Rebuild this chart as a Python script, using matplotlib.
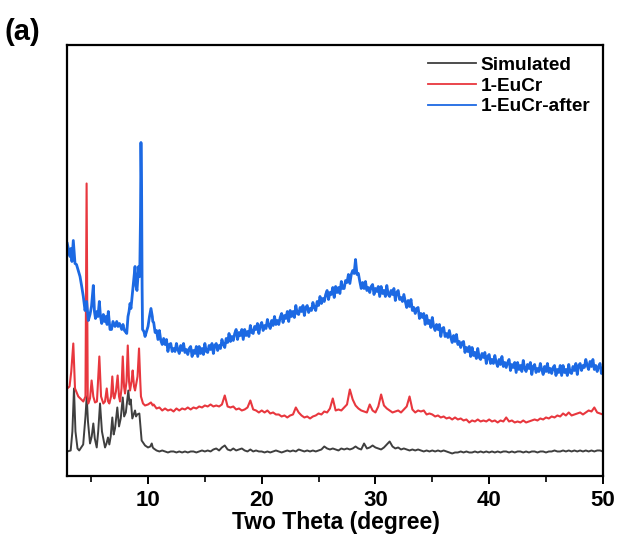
import numpy as np
import matplotlib
matplotlib.use("Agg")
import matplotlib.pyplot as plt

plt.rcParams['font.family'] = ['Liberation Sans', 'DejaVu Sans']
plt.rcParams['font.weight'] = 'bold'

# low-angle region (sharp reflections), 2theta / intensity (a.u.)
sim_head_x = [2.9, 3.2, 3.35, 3.49, 3.62, 3.8, 3.95, 4.3, 4.5, 4.61, 4.72, 4.9, 5.05, 5.19, 5.32,
              5.49, 5.62, 5.78, 5.95, 6.22, 6.35, 6.48, 6.6, 6.72, 6.86, 6.98, 7.1, 7.3, 7.45,
              7.6, 7.78, 7.9, 8.05, 8.27, 8.38, 8.48, 8.62, 8.86, 8.95, 9.05, 9.24, 9.44, 9.74,
              10.0, 10.2, 10.33, 10.42]
sim_head_y = [25, 26, 45, 88, 45, 28, 26, 32, 60, 80, 55, 33, 40, 53, 38,
              29, 45, 73, 45, 29, 33, 39, 32, 40, 59, 42, 48, 69, 50,
              58, 79, 60, 64, 86, 72, 77, 58, 66, 60, 62, 63, 36, 31,
              29, 30, 33, 29]

eucr_head_x = [2.9, 3.1, 3.25, 3.43, 3.58, 3.87, 4.31, 4.5, 4.6, 4.7, 4.75, 4.9, 5.04, 5.19, 5.34,
               5.51, 5.72, 5.87, 6.07, 6.22, 6.37, 6.49, 6.6, 6.75, 6.86, 6.97, 7.04, 7.18, 7.33,
               7.45, 7.54, 7.67, 7.78, 7.89, 7.98, 8.11, 8.22, 8.33, 8.42, 8.55, 8.65, 8.77, 8.86,
               9.08, 9.21, 9.32, 9.38, 9.56, 9.74, 10.0, 10.26, 10.42]
eucr_head_y = [88, 90, 105, 133, 88, 80, 75, 80, 293, 80, 73, 78, 96, 80, 74,
               75, 120, 80, 73, 75, 88, 75, 73, 80, 100, 80, 78, 85, 101,
               80, 75, 88, 120, 90, 83, 95, 131, 95, 86, 95, 106, 90, 86,
               100, 128, 95, 80, 73, 71, 72, 74, 71]

after_head_x = [2.9, 3.05, 3.14, 3.22, 3.31, 3.43, 3.58, 3.71, 3.87, 4.02, 4.17, 4.31, 4.46, 4.6,
                4.75, 4.9, 5.03, 5.19, 5.29, 5.38, 5.51, 5.6, 5.72, 5.82, 5.93, 6.07, 6.17, 6.3,
                6.4, 6.51, 6.66, 6.79, 6.92, 7.1, 7.25, 7.36, 7.49, 7.69, 7.8, 7.93, 8.13, 8.24,
                8.33, 8.42, 8.5, 8.64, 8.73, 8.86, 8.95, 9.03, 9.18, 9.27, 9.34, 9.38, 9.44, 9.48,
                9.52, 9.64, 9.74, 9.87, 10.0, 10.13, 10.26, 10.38, 10.42]
after_head_y = [233, 225, 220, 228, 215, 236, 213, 212, 206, 200, 190, 180, 166, 175,
                156, 162, 170, 191, 165, 158, 165, 160, 175, 160, 153, 162, 155, 160,
                152, 165, 147, 147, 155, 150, 155, 150, 153, 147, 152, 146, 143, 160,
                165, 173, 168, 185, 195, 210, 190, 186, 210, 200, 260, 334, 280, 190,
                147, 145, 140, 145, 150, 160, 168, 160, 155]

# 10.5-50 deg: Simulated and 1-EuCr read every 0.25 deg
tail_x = np.arange(10.5, 50.001, 0.25)

sim_tail = [28, 26, 25, 26, 25, 24, 25, 25, 24, 25, 24, 25, 24, 25, 25, 24, 25, 26, 25, 26,
            25, 27, 28, 26, 29, 31, 27, 26, 28, 26, 27, 28, 26, 25, 27, 25, 26, 25, 25, 24,
            25, 24, 25, 26, 25, 24, 25, 26, 25, 26, 25, 27, 26, 25, 26, 25, 26, 25, 26, 27,
            30, 28, 27, 28, 27, 26, 28, 27, 28, 27, 28, 30, 28, 27, 33, 28, 29, 31, 29, 28,
            27, 29, 32, 35, 30, 28, 29, 27, 28, 27, 26, 27, 26, 27, 26, 25, 26, 25, 26, 25,
            26, 25, 26, 25, 24, 23, 24, 24, 25, 24, 25, 24, 24, 25, 24, 25, 24, 25, 24, 25,
            24, 25, 24, 25, 25, 24, 25, 24, 25, 25, 24, 25, 24, 25, 25, 24, 25, 25, 24, 25,
            25, 26, 25, 25, 26, 25, 26, 25, 26, 25, 26, 25, 26, 25, 26, 25, 26, 26, 25]

eucr_tail = [72, 68, 69, 66, 68, 66, 67, 65, 68, 66, 68, 67, 69, 67, 69, 68, 70, 69, 71, 70,
             72, 70, 71, 70, 72, 81, 70, 69, 70, 67, 68, 66, 67, 69, 76, 67, 66, 64, 66, 64,
             66, 63, 64, 62, 62, 60, 61, 59, 61, 62, 69, 64, 61, 59, 60, 58, 60, 61, 63, 62,
             65, 64, 68, 78, 66, 67, 66, 69, 72, 87, 77, 71, 68, 66, 65, 64, 72, 66, 64, 70,
             82, 71, 68, 66, 64, 65, 66, 64, 67, 70, 80, 67, 64, 66, 65, 66, 62, 63, 62, 60,
             61, 59, 60, 58, 59, 57, 59, 57, 58, 56, 57, 54, 56, 55, 57, 55, 56, 55, 57, 55,
             56, 54, 56, 55, 59, 55, 56, 54, 55, 54, 56, 54, 55, 56, 57, 56, 58, 57, 59, 58,
             60, 59, 61, 60, 63, 61, 64, 61, 62, 63, 64, 62, 64, 66, 65, 69, 64, 63, 62]

# 1-EuCr-after is much noisier: read every 0.125 deg
after_tail_x = np.arange(10.5, 50.001, 0.125)
after_tail = [154, 144, 146, 137, 146, 136, 132, 138, 132, 137, 125, 132, 133, 125, 128, 125,
              133, 127, 123, 131, 126, 133, 124, 127, 122, 128, 130, 120, 126, 123, 130, 120,
              130, 123, 128, 122, 133, 125, 124, 131, 127, 133, 123, 131, 133, 126, 131, 128,
              137, 132, 129, 138, 134, 143, 135, 140, 136, 143, 147, 137, 144, 141, 147, 137,
              147, 141, 145, 140, 151, 144, 143, 150, 147, 153, 143, 151, 154, 146, 151, 148,
              157, 151, 148, 156, 151, 160, 152, 156, 152, 159, 163, 154, 161, 158, 165, 155,
              166, 160, 165, 159, 171, 163, 162, 169, 165, 171, 161, 169, 171, 164, 168, 166,
              174, 169, 166, 175, 171, 180, 173, 178, 175, 182, 186, 177, 184, 182, 189, 179,
              190, 184, 189, 183, 195, 188, 188, 196, 194, 202, 193, 202, 206, 203, 217, 202,
              203, 195, 188, 194, 188, 195, 186, 189, 184, 190, 192, 182, 188, 185, 190, 180,
              190, 183, 186, 180, 191, 182, 180, 186, 182, 188, 176, 184, 186, 177, 179, 175,
              182, 175, 169, 176, 170, 177, 166, 169, 163, 168, 169, 158, 163, 159, 163, 152,
              161, 153, 156, 149, 159, 150, 146, 152, 147, 152, 140, 148, 149, 140, 143, 139,
              146, 139, 134, 141, 135, 142, 132, 135, 129, 134, 135, 124, 129, 125, 130, 120,
              129, 121, 124, 118, 128, 119, 117, 123, 119, 124, 113, 120, 122, 113, 117, 113,
              121, 114, 110, 117, 112, 120, 110, 114, 109, 114, 117, 106, 112, 109, 114, 104,
              114, 107, 111, 105, 116, 108, 105, 112, 108, 114, 102, 110, 112, 104, 108, 105,
              113, 107, 102, 110, 105, 113, 104, 108, 103, 109, 111, 101, 107, 104, 111, 101,
              111, 104, 107, 101, 112, 104, 103, 110, 106, 113, 102, 111, 113, 106, 111, 109,
              117, 111, 107, 115, 110, 117, 107, 111, 105, 110, 113, 103, 108]

assert len(sim_tail) == len(tail_x) == len(eucr_tail), (len(tail_x), len(sim_tail), len(eucr_tail))
assert len(after_tail) == len(after_tail_x), (len(after_tail_x), len(after_tail))

sim_x = np.concatenate([sim_head_x, tail_x])
sim_y = np.concatenate([sim_head_y, sim_tail])
eucr_x = np.concatenate([eucr_head_x, tail_x])
eucr_y = np.concatenate([eucr_head_y, eucr_tail])
after_x = np.concatenate([after_head_x, after_tail_x])
after_y = np.concatenate([after_head_y, after_tail])

fig = plt.figure(figsize=(6.17, 5.39), dpi=100)
ax = fig.add_axes([0.1094, 0.116, 0.8686, 0.8005])

ax.plot(sim_x, sim_y, color='#3f3f3f', lw=1.4, label='Simulated')
ax.plot(eucr_x, eucr_y, color='#e8373e', lw=1.5, label='1-EuCr')
ax.plot(after_x, after_y, color='#1c69e3', lw=2.0, label='1-EuCr-after')

ax.set_xlim(2.92, 50.05)
ax.set_ylim(0, 431.5)
ax.set_xticks([10, 20, 30, 40, 50])
ax.set_xticks([5, 15, 25, 35, 45], minor=True)
ax.set_yticks([])
ax.tick_params(axis='x', which='major', direction='out', length=6, width=1.4,
               labelsize=16, pad=4)
ax.tick_params(axis='x', which='minor', direction='out', length=4, width=1.2)
for lab in ax.get_xticklabels():
    lab.set_fontweight('bold')
for sp in ax.spines.values():
    sp.set_linewidth(1.6)
ax.set_xlabel('Two Theta (degree)', fontsize=16.5, fontweight='bold', labelpad=0)

leg = ax.legend(loc='upper right', bbox_to_anchor=(1.0, 1.004), frameon=False,
                prop={'weight': 'bold', 'size': 13.7}, handlelength=2.5,
                handletextpad=0.25, labelspacing=0.18, borderaxespad=0.3)
for h in leg.get_lines():
    h.set_linewidth(1.3)

fig.text(0.008, 0.94, '(a)', fontsize=21, fontweight='bold', va='center', ha='left')

fig.savefig('out.png', dpi=100)
